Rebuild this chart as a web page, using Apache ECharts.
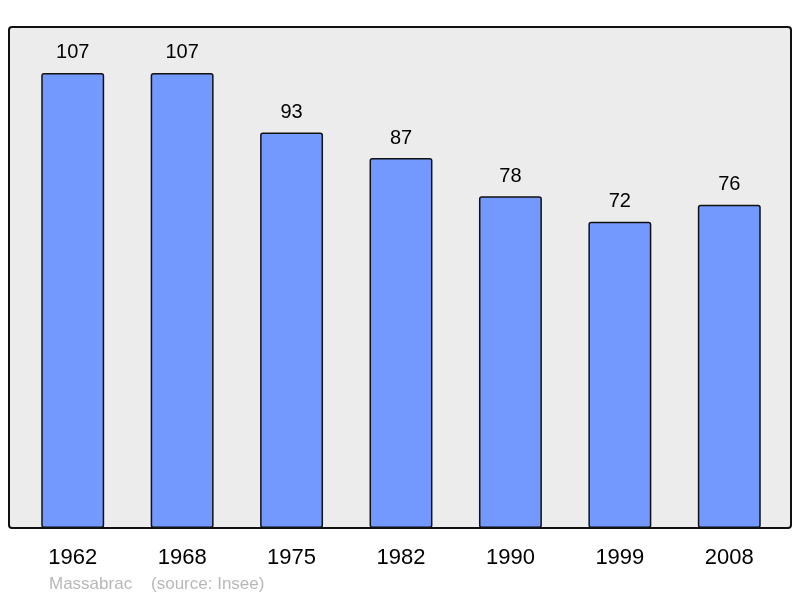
<!DOCTYPE html>
<html>
<head>
<meta charset="utf-8">
<script src="https://cdn.jsdelivr.net/npm/echarts@6/dist/echarts.min.js"></script>
<style>
  html, body { margin: 0; padding: 0; background: #fff; }
  #main { width: 800px; height: 598px; }
</style>
</head>
<body>
<div id="main"></div>
<script>
// données population
const years = ['1962', '1968', '1975', '1982', '1990', '1999', '2008']
const population = [107, 107, 93, 87, 78, 72, 76]

const myChart = echarts.init(document.getElementById('main'))

myChart.setOption({
  animation: false,
  textStyle: { fontFamily: 'Liberation Sans, Arial, sans-serif' },
  graphic: [
    {
      type: 'rect',
      z: -10,
      shape: { x: 9, y: 27, width: 782, height: 501, r: 3 },
      style: { fill: '#ececec', stroke: '#111', lineWidth: 2 }
    },
    {
      type: 'text',
      left: 49,
      top: 576,
      style: {
        text: 'Massabrac    (source: Insee)',
        fill: '#b8b8b8',
        font: '17px Liberation Sans, Arial, sans-serif'
      }
    }
  ],
  grid: { left: 18, right: 16, top: 27, bottom: 70 },
  xAxis: {
    type: 'category',
    data: years,
    axisLine: { show: false },
    axisTick: { show: false },
    axisLabel: { color: '#000', fontSize: 22, margin: 19 }
  },
  yAxis: {
    type: 'value',
    min: 0,
    max: 117.8,
    show: false,
    splitLine: { show: false }
  },
  series: [{
    type: 'bar',
    data: population,
    barWidth: '57.5%',
    itemStyle: {
      color: '#7399ff',
      borderColor: '#111',
      borderWidth: 1.5,
      borderRadius: 2
    },
    label: {
      show: true,
      position: 'top',
      distance: 10,
      color: '#000',
      fontSize: 20
    }
  }]
})
</script>
</body>
</html>
